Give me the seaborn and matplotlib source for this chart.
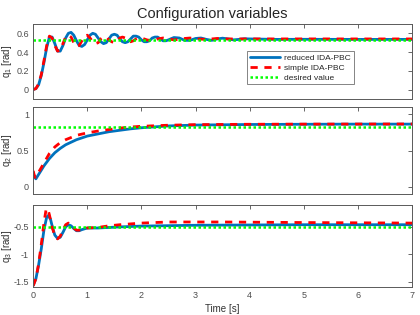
import numpy as np
import pandas as pd
import matplotlib
matplotlib.use("Agg")
import matplotlib.pyplot as plt
import seaborn as sns

# q1 samples, reduced IDA-PBC (blue)
t_q1_red = [0, 0.05, 0.1, 0.15, 0.2, 0.25, 0.3, 0.35, 0.4, 0.45, 0.5, 0.55, 0.6, 0.65, 0.7,
            0.75, 0.8, 0.85, 0.9, 0.95, 1.0, 1.05, 1.1, 1.15, 1.2, 1.25, 1.3, 1.35, 1.4, 1.45,
            1.5, 1.55, 1.6, 1.65, 1.7, 1.75, 1.8, 1.85, 1.9, 1.95, 2.0, 2.05, 2.1, 2.15, 2.2,
            2.25, 2.3, 2.35, 2.4, 2.45, 2.5, 2.6, 2.7, 2.8, 2.9, 3.0, 3.1, 3.2, 3.3, 3.4, 3.5,
            3.6, 3.7, 3.8, 3.9, 4.0, 4.5, 5.0, 6.0, 7.0]
q1_reduced = [0.0, 0.01, 0.05, 0.15, 0.29, 0.45, 0.56, 0.56, 0.49, 0.41, 0.41, 0.47, 0.55, 0.60, 0.61,
              0.58, 0.52, 0.47, 0.46, 0.48, 0.53, 0.58, 0.60, 0.59, 0.55, 0.51, 0.49, 0.50, 0.54, 0.58,
              0.59, 0.58, 0.54, 0.51, 0.50, 0.51, 0.54, 0.57, 0.57, 0.56, 0.53, 0.51, 0.51, 0.52, 0.55,
              0.56, 0.56, 0.54, 0.52, 0.52, 0.53, 0.555, 0.55, 0.525, 0.525, 0.545, 0.55, 0.535, 0.525,
              0.54, 0.548, 0.54, 0.53, 0.535, 0.542, 0.54, 0.535, 0.536, 0.535, 0.535]

# q1 samples, simple IDA-PBC (red)
t_q1_simple = [0, 0.05, 0.1, 0.15, 0.2, 0.25, 0.3, 0.35, 0.4, 0.45, 0.5, 0.55, 0.6, 0.65, 0.7,
               0.75, 0.8, 0.85, 0.9, 0.95, 1.0, 1.05, 1.1, 1.15, 1.2, 1.25, 1.3, 1.35, 1.4, 1.45,
               1.5, 1.55, 1.6, 1.65, 1.7, 1.75, 1.8, 1.85, 1.9, 1.95, 2.0, 2.1, 2.2, 2.3, 2.4,
               2.5, 2.6, 2.7, 2.8, 2.9, 3.0, 3.2, 3.4, 3.6, 4.0, 5.0, 6.0, 7.0]
q1_simple = [0.0, 0.01, 0.06, 0.16, 0.31, 0.47, 0.57, 0.55, 0.47, 0.41, 0.42, 0.49, 0.56, 0.58, 0.56,
             0.50, 0.46, 0.47, 0.52, 0.57, 0.58, 0.55, 0.51, 0.49, 0.50, 0.54, 0.56, 0.56, 0.53, 0.51,
             0.50, 0.52, 0.55, 0.56, 0.55, 0.53, 0.51, 0.52, 0.54, 0.55, 0.55, 0.53, 0.52, 0.54, 0.55,
             0.54, 0.53, 0.535, 0.545, 0.55, 0.54, 0.535, 0.545, 0.54, 0.54, 0.54, 0.54, 0.54]

# q2 samples
t_q2_red = [0, 0.02, 0.05, 0.1, 0.2, 0.3, 0.4, 0.5, 0.6, 0.8, 1.0, 1.2, 1.4, 1.6, 1.8, 2.0,
            2.5, 3.0, 4.0, 5.0, 6.0, 7.0]
q2_reduced = [0.20, 0.14, 0.11, 0.17, 0.29, 0.39, 0.47, 0.53, 0.58, 0.65, 0.70, 0.73, 0.76, 0.78,
              0.80, 0.815, 0.84, 0.852, 0.86, 0.863, 0.865, 0.865]
t_q2_simple = [0, 0.02, 0.04, 0.1, 0.2, 0.3, 0.4, 0.5, 0.6, 0.8, 1.0, 1.2, 1.4, 1.6, 1.8, 2.0,
               2.5, 3.0, 4.0, 5.0, 7.0]
q2_simple = [0.22, 0.16, 0.13, 0.20, 0.33, 0.46, 0.55, 0.61, 0.65, 0.71, 0.745, 0.77, 0.79, 0.81,
             0.825, 0.835, 0.85, 0.858, 0.863, 0.865, 0.867]

# q3 samples
t_q3_red = [0, 0.05, 0.1, 0.15, 0.2, 0.25, 0.28, 0.32, 0.36, 0.4, 0.45, 0.5, 0.55, 0.6, 0.65,
            0.7, 0.75, 0.8, 0.85, 0.9, 1.0, 1.1, 1.2, 1.4, 1.6, 2.0, 3.0, 4.0, 5.0, 7.0]
q3_reduced = [-1.57, -1.45, -1.2, -0.9, -0.55, -0.32, -0.29, -0.36, -0.52, -0.65, -0.71, -0.69,
              -0.6, -0.5, -0.46, -0.48, -0.53, -0.57, -0.57, -0.55, -0.52, -0.52, -0.52, -0.51,
              -0.5, -0.485, -0.47, -0.465, -0.46, -0.46]
t_q3_simple = [0, 0.05, 0.1, 0.15, 0.2, 0.24, 0.27, 0.3, 0.35, 0.4, 0.45, 0.5, 0.55, 0.6, 0.65,
               0.7, 0.75, 0.8, 0.85, 0.9, 1.0, 1.2, 1.4, 1.6, 2.0, 2.5, 3.5, 5.0, 7.0]
q3_simple = [-1.58, -1.45, -1.18, -0.82, -0.42, -0.17, -0.17, -0.28, -0.5, -0.67, -0.72, -0.67,
             -0.56, -0.46, -0.43, -0.46, -0.52, -0.56, -0.56, -0.54, -0.52, -0.51, -0.48, -0.46,
             -0.43, -0.41, -0.41, -0.42, -0.43]

# desired values
desired = [0.525, 0.823, -0.505]
t_span = [0, 7]

ylabels = ["q$_1$ [rad]", "q$_2$ [rad]", "q$_3$ [rad]"]
ylims = [(-0.1, 0.7), (-0.1, 1.1), (-1.6, -0.1)]
yticks = [[0, 0.2, 0.4, 0.6], [0, 0.5, 1], [-1.5, -1, -0.5]]
ytick_labels = [["0", "0.2", "0.4", "0.6"], ["0", "0.5", "1"], ["-1.5", "-1", "-0.5"]]
xticks = [0, 1, 2, 3, 4, 5, 6, 7]

sns.set_style("white")
plt.rcParams["font.family"] = ["Liberation Sans", "DejaVu Sans"]
plt.rcParams["mathtext.default"] = "regular"

fig = plt.figure(figsize=(4.2, 3.15), dpi=100)
boxes = [(0.079, 0.686, 0.902, 0.238),
         (0.079, 0.384, 0.902, 0.276),
         (0.079, 0.089, 0.902, 0.260)]

series = [(t_q1_red, q1_reduced, t_q1_simple, q1_simple),
          (t_q2_red, q2_reduced, t_q2_simple, q2_simple),
          (t_q3_red, q3_reduced, t_q3_simple, q3_simple)]

axes = []
for i, box in enumerate(boxes):
    ax = fig.add_axes(box)
    tr, yr, ts, ys = series[i]
    sns.lineplot(x=tr, y=yr, ax=ax, color="#0072BD", linewidth=2, label="reduced IDA-PBC")
    sns.lineplot(x=ts, y=ys, ax=ax, color="#FF0000", linewidth=2,
                 linestyle=(0, (2.6, 2.4)), label="simple IDA-PBC")
    sns.lineplot(x=t_span, y=[desired[i]] * 2, ax=ax, color="#00FF00", linewidth=1.8,
                 linestyle=(0, (1, 1)), label="desired value")
    ax.set_xlim(0, 7)
    ax.set_ylim(*ylims[i])
    ax.set_yticks(yticks[i])
    ax.set_yticklabels(ytick_labels[i])
    ax.set_xticks(xticks)
    if i < 2:
        ax.set_xticklabels([])
    ax.set_ylabel(ylabels[i], fontsize=7, color="0.2")
    ax.yaxis.set_label_coords(-0.05, 0.5)
    ax.tick_params(direction="in", length=3, width=0.6, labelsize=6.5, colors="0.3",
                   top=True, right=True, pad=3)
    for s in ax.spines.values():
        s.set_color("0.35")
        s.set_linewidth(0.7)
    ax.get_legend().remove()
    axes.append(ax)

leg = axes[0].legend(loc="upper left", bbox_to_anchor=(0.565, 0.64), fontsize=6,
                     handlelength=3.6, frameon=True, fancybox=False, borderpad=0.35,
                     labelspacing=0.25, handletextpad=0.5, borderaxespad=0)
leg.get_frame().set_edgecolor("0.3")
leg.get_frame().set_linewidth(0.6)

axes[2].set_xlabel("Time [s]", fontsize=7, color="0.2", labelpad=3)
fig.text(0.505, 0.934, "Configuration variables", ha="center", va="bottom", fontsize=10.5)

fig.savefig("out.png", dpi=100)
